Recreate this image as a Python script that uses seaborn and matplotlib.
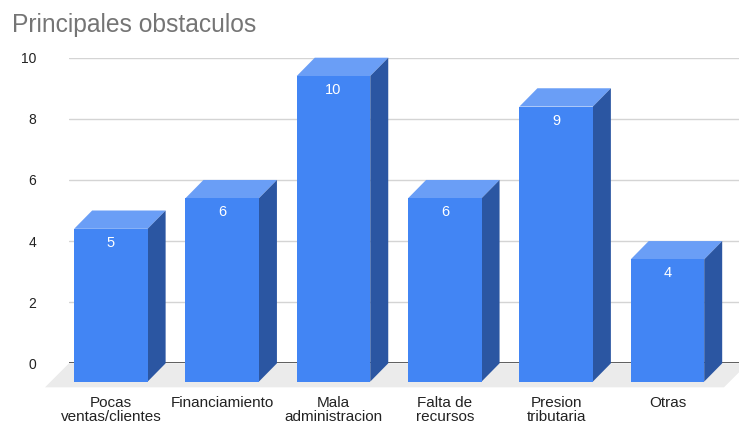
import numpy as np
import pandas as pd
import matplotlib
matplotlib.use("Agg")
import matplotlib.pyplot as plt
import seaborn as sns
from matplotlib.patches import Polygon

# ---- data ----
categories = ["Pocas\nventas/clientes", "Financiamiento", "Mala\nadministracion",
              "Falta de\nrecursos", "Presion\ntributaria", "Otras"]
values = [5, 6, 10, 6, 9, 4]
yticks = [0, 2, 4, 6, 8, 10]
title = "Principales obstaculos"

# ---- style ----
sns.set_style("white")
plt.rcParams["font.family"] = ["Liberation Sans", "DejaVu Sans"]

FRONT = "#4285f4"
TOP = "#6a9ef6"
SIDE = "#2b56a2"
FLOOR = "#ebebeb"

W, H, DPI = 739, 426, 100
fig = plt.figure(figsize=(W / DPI, H / DPI), dpi=DPI)
ax_l, ax_r, ax_t, ax_b = 69, 739, 57.7, 363.3
ax = fig.add_axes([ax_l / W, 1 - ax_b / H, (ax_r - ax_l) / W, (ax_b - ax_t) / H])

df = pd.DataFrame({"cat": categories, "val": values})
sns.barplot(data=df, x="cat", y="val", ax=ax, color=FRONT, width=0.66,
            saturation=1, zorder=3)

ax.set_xlim(-0.538, 5.481)
ax.set_ylim(0, 10)

inv = ax.transData.inverted()


def px2data(dxp, dyp):
    p0 = inv.transform((0, 0))
    p1 = inv.transform((dxp, dyp))
    return p1 - p0


ddx, ddy = px2data(18, 18.3)
fdx, fdy = px2data(24, 24)
extra, _ = px2data(9, 0)

# floor
xl, xr = ax.get_xlim()
floor = Polygon([(xl, 0), (xr + extra, 0), (xr + extra - fdx, -fdy), (xl - fdx, -fdy)],
                closed=True, fc=FLOOR, ec="none", zorder=0.5, clip_on=False)
ax.add_patch(floor)

bars = list(ax.patches)
bars = [b for b in bars if b is not floor]
for p, c, v in zip(bars, categories, values):
    x0 = p.get_x()
    w = p.get_width()
    h = p.get_height()
    top = Polygon([(x0 - ddx, h - ddy), (x0, h), (x0 + w, h), (x0 + w - ddx, h - ddy)],
                  closed=True, fc=TOP, ec="none", zorder=2, clip_on=False)
    side = Polygon([(x0 + w - ddx, -ddy), (x0 + w, 0), (x0 + w, h), (x0 + w - ddx, h - ddy)],
                   closed=True, fc=SIDE, ec="none", zorder=2, clip_on=False)
    ax.add_patch(top)
    ax.add_patch(side)
    p.set_x(x0 - ddx)
    p.set_y(-ddy)
    p.set_edgecolor("none")
    p.set_clip_on(False)
    cx = x0 - ddx + w / 2
    ax.annotate(str(v), xy=(cx, h - ddy), xytext=(0, -14 * 72 / DPI),
                textcoords="offset points", ha="center", va="center",
                color="white", fontsize=10.5, zorder=5)
    ax.annotate(c, xy=(cx, 0), xytext=(0, -33 * 72 / DPI),
                textcoords="offset points", ha="center", va="top",
                fontsize=11, linespacing=1.0, color="#222222",
                annotation_clip=False)

ax.axhline(0, color="#444444", lw=1.2, zorder=1.5)
ax.set_yticks(yticks)
ax.set_yticklabels([str(t) for t in yticks])
ax.tick_params(axis="y", length=0, pad=33 * 72 / DPI, labelsize=10, labelcolor="#222222")
ax.set_xticks([])
ax.grid(axis="y", color="#d4d4d4", lw=1)
ax.set_axisbelow(True)
for s in ax.spines.values():
    s.set_visible(False)
ax.set_xlabel("")
ax.set_ylabel("")

fig.text(12 / W, 1 - 32 / H, title, fontsize=17.7, color="#757575",
         va="baseline", ha="left")

fig.savefig("out.png", dpi=DPI)
